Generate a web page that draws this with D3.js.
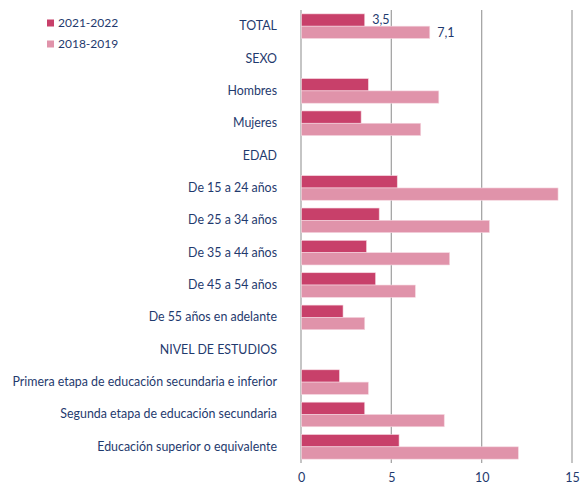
<!DOCTYPE html>
<html>
<head>
<meta charset="utf-8">
<script src="https://cdn.jsdelivr.net/npm/d3@7"></script>
<style>
  html, body { margin: 0; padding: 0; background: #fff; }
  svg text { font-family: Lato, "Open Sans", sans-serif; fill: #1f3a6e; }
</style>
</head>
<body>
<svg id="chart" width="585" height="485"></svg>
<script>
// Categories (section headers carry no values)
const categories = [
  "TOTAL", "SEXO", "Hombres", "Mujeres", "EDAD",
  "De 15 a 24 años", "De 25 a 34 años", "De 35 a 44 años", "De 45 a 54 años",
  "De 55 años en adelante", "NIVEL DE ESTUDIOS",
  "Primera etapa de educación secundaria e inferior",
  "Segunda etapa de educación secundaria",
  "Educación superior o equivalente"
];
const seriesNames = ["2021-2022", "2018-2019"];
const values2021 = [3.5, null, 3.7, 3.3, null, 5.3, 4.3, 3.6, 4.1, 2.3, null, 2.1, 3.5, 5.4];
const values2018 = [7.1, null, 7.6, 6.6, null, 14.2, 10.4, 8.2, 6.3, 3.5, null, 3.7, 7.9, 12.0];
const xTicks = [0, 5, 10, 15];
const colors = ["#c8406a", "#e093aa"];

const svg = d3.select("#chart");
const m = { left: 301, right: 13, top: 10, bottom: 22 };
const W = 585, H = 485;

const x = d3.scaleLinear().domain([0, 15]).range([m.left, W - m.right]);
const y = d3.scaleBand().domain(categories).range([m.top, H - m.bottom]).paddingInner(0.24).paddingOuter(0.12);
const ySub = d3.scaleBand().domain(seriesNames).range([0, y.bandwidth()]);

// Vertical gridlines
svg.append("g").selectAll("line").data(xTicks).join("line")
  .attr("x1", d => x(d)).attr("x2", d => x(d))
  .attr("y1", m.top).attr("y2", H - m.bottom)
  .attr("stroke", "#a6a6a6").attr("stroke-width", 1.3);

// X axis tick labels
const xAxis = d3.axisBottom(x).tickValues(xTicks).tickSize(0).tickPadding(10).tickFormat(d3.format("d"));
const gx = svg.append("g").attr("transform", `translate(0,${H - m.bottom})`).call(xAxis);
gx.select(".domain").remove();
gx.selectAll("text").style("font-size", "12.5px").attr("fill", "#1f3a6e");

// Category labels
const yAxis = d3.axisLeft(y).tickSize(0).tickPadding(24);
const gy = svg.append("g").attr("transform", `translate(${m.left},0)`).call(yAxis);
gy.select(".domain").remove();
gy.selectAll("text").style("font-size", "12.4px").attr("fill", "#1f3a6e");

// Bars
const series = [values2021, values2018];
series.forEach((vals, si) => {
  const data = categories.map((c, i) => ({ c, v: vals[i] })).filter(d => d.v != null);
  svg.append("g").selectAll("rect").data(data).join("rect")
    .attr("x", x(0) + 0.5)
    .attr("y", d => y(d.c) + ySub(seriesNames[si]))
    .attr("width", d => x(d.v) - x(0))
    .attr("height", ySub.bandwidth())
    .attr("fill", colors[si])
    .attr("stroke", "#f5d6df").attr("stroke-width", 0.6);
});

// Value labels for TOTAL
const fmt = v => d3.format(".1f")(v).replace(".", ",");
series.forEach((vals, si) => {
  svg.append("text")
    .attr("x", x(vals[0]) + 8)
    .attr("y", y("TOTAL") + ySub(seriesNames[si]) + ySub.bandwidth() / 2)
    .attr("dy", "0.35em")
    .style("font-size", "12.5px")
    .text(fmt(vals[0]));
});

// Legend
const lg = svg.append("g");
seriesNames.forEach((name, i) => {
  const ly = 23 + i * 21;
  lg.append("rect").attr("x", 47).attr("y", ly - 3.5).attr("width", 7).attr("height", 7).attr("fill", colors[i]);
  lg.append("text").attr("x", 58).attr("y", ly).attr("dy", "0.35em").style("font-size", "12px").text(name);
});
</script>
</body>
</html>
